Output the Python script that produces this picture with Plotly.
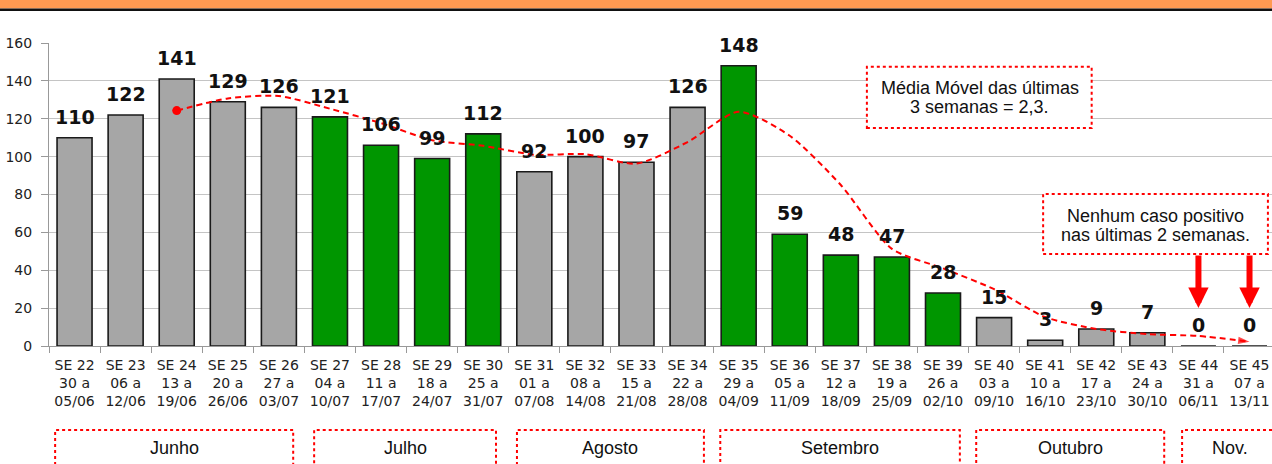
import plotly.graph_objects as go

# weekly data (SE = semana epidemiologica)
weeks = ["SE 22", "SE 23", "SE 24", "SE 25", "SE 26", "SE 27", "SE 28", "SE 29",
         "SE 30", "SE 31", "SE 32", "SE 33", "SE 34", "SE 35", "SE 36", "SE 37",
         "SE 38", "SE 39", "SE 40", "SE 41", "SE 42", "SE 43", "SE 44", "SE 45"]
week_start = ["30 a", "06 a", "13 a", "20 a", "27 a", "04 a", "11 a", "18 a",
              "25 a", "01 a", "08 a", "15 a", "22 a", "29 a", "05 a", "12 a",
              "19 a", "26 a", "03 a", "10 a", "17 a", "24 a", "31 a", "07 a"]
week_end = ["05/06", "12/06", "19/06", "26/06", "03/07", "10/07", "17/07", "24/07",
            "31/07", "07/08", "14/08", "21/08", "28/08", "04/09", "11/09", "18/09",
            "25/09", "02/10", "09/10", "16/10", "23/10", "30/10", "06/11", "13/11"]
cases = [110, 122, 141, 129, 126, 121, 106, 99, 112, 92, 100, 97, 126, 148,
         59, 48, 47, 28, 15, 3, 9, 7, 0, 0]
highlight = [0, 0, 0, 0, 0, 1, 1, 1, 1, 0, 0, 0, 0, 1, 1, 1, 1, 1, 0, 0, 0, 0, 0, 0]
moving_avg = [None, None, 124.3, 130.7, 132.0, 125.3, 117.7, 108.7, 105.7, 101.0,
              101.3, 96.3, 107.7, 123.7, 111.0, 85.0, 51.3, 41.0, 30.0, 15.3,
              9.0, 6.3, 5.3, 2.3]

months = ["Junho", "Julho", "Agosto", "Setembro", "Outubro", "Nov."]
# month box spans, in category index units
month_spans = [(-0.38, 4.28), (4.69, 8.25), (8.66, 12.32), (12.64, 17.33),
               (17.65, 21.33), (21.68, 23.54)]

note_avg = ["Média Móvel das últimas", "3 semanas = 2,3."]
note_none = ["Nenhum caso positivo", "nas últimas 2 semanas."]

GRAY = "#A6A6A6"
GREEN = "#009600"
RED = "#FF0000"

labels = [f"{w}<br>{s}<br>{e}" for w, s, e in zip(weeks, week_start, week_end)]
colors = [GREEN if h else GRAY for h in highlight]

fig = go.Figure()

fig.add_trace(go.Bar(
    x=labels, y=cases,
    marker=dict(color=colors, line=dict(color="#1a1a1a", width=1.6)),
    showlegend=False, hoverinfo="skip"
))

# moving average line with an arrow at the end
n = len(moving_avg)
sizes = [0] * n
sizes[-1] = 12
fig.add_trace(go.Scatter(
    x=labels, y=moving_avg, mode="lines+markers",
    line=dict(color=RED, width=2, dash="6px,4px", shape="spline", smoothing=0.7),
    marker=dict(color=RED, size=sizes, symbol="arrow", angleref="previous",
                line=dict(width=0)),
    showlegend=False, hoverinfo="skip"
))

# dot where the average starts
first = next(i for i, v in enumerate(moving_avg) if v is not None)
fig.add_trace(go.Scatter(
    x=[labels[first]], y=[moving_avg[first]], mode="markers",
    marker=dict(color=RED, size=9), showlegend=False, hoverinfo="skip"
))

annotations = []
shapes = []

# value labels above bars
for i, v in enumerate(cases):
    annotations.append(dict(
        x=i, y=v, xref="x", yref="y", text=f"<b>{v}</b>", showarrow=False,
        yanchor="bottom", yshift=8,
        font=dict(family="DejaVu Sans", size=19, color="#111")
    ))

# top orange band + black rule
shapes.append(dict(type="rect", xref="paper", yref="paper", x0=-0.05, x1=1.02,
                   y0=1.1135, y1=1.16, fillcolor="#FF9A52", line=dict(width=0),
                   layer="above"))
shapes.append(dict(type="rect", xref="paper", yref="paper", x0=-0.05, x1=1.02,
                   y0=1.1055, y1=1.1135, fillcolor="#111", line=dict(width=0),
                   layer="above"))

box_line = dict(color=RED, width=2, dash="dot")

# month boxes
for name, (x0, x1) in zip(months, month_spans):
    shapes.append(dict(type="rect", xref="x", yref="paper", x0=x0, x1=x1,
                       y0=-0.6, y1=-0.277, line=box_line))
    annotations.append(dict(x=(x0 + x1) / 2, y=-0.3366, xref="x", yref="paper",
                            text=name, showarrow=False, yanchor="middle",
                            font=dict(family="Liberation Sans", size=18, color="#111")))

# note boxes
shapes.append(dict(type="rect", xref="x", yref="y", x0=15.51, x1=19.91,
                   y0=115.1, y1=147.5, line=box_line, fillcolor="white"))
for txt, yy in zip(note_avg, [136.4, 126.0]):
    annotations.append(dict(x=17.715, y=yy, xref="x", yref="y", text=txt,
                            showarrow=False, yanchor="middle",
                            font=dict(family="Liberation Sans", size=18, color="#111")))

shapes.append(dict(type="rect", xref="x", yref="y", x0=18.96, x1=23.36,
                   y0=48.6, y1=80.3, line=box_line, fillcolor="white"))
for txt, yy in zip(note_none, [68.6, 58.6]):
    annotations.append(dict(x=21.16, y=yy, xref="x", yref="y", text=txt,
                            showarrow=False, yanchor="middle",
                            font=dict(family="Liberation Sans", size=18, color="#111")))

# thick red arrows pointing at the last two weeks
for i in (22, 23):
    annotations.append(dict(x=i, y=20.1, xref="x", yref="y", ax=i, ay=48.6,
                            axref="x", ayref="y", text="", showarrow=True,
                            arrowhead=2, arrowwidth=6, arrowsize=0.68,
                            arrowcolor=RED))

fig.update_layout(
    width=1272, height=464,
    margin=dict(l=49, r=0, t=43, b=118),
    plot_bgcolor="white", paper_bgcolor="white",
    bargap=0.315,
    shapes=shapes, annotations=annotations,
    xaxis=dict(type="category", range=[-0.5, 23.44], tickson="boundaries",
               ticks="outside", ticklen=6, tickcolor="#999", showline=True,
               linecolor="#999", showgrid=False, ticklabelstandoff=6,
               tickfont=dict(family="DejaVu Sans", size=14, color="#222")),
    yaxis=dict(range=[0, 160], dtick=20, showgrid=True, gridcolor="#C4C4C4",
               gridwidth=1, showline=True, linecolor="#999", ticks="outside",
               ticklen=7, tickcolor="#999", zeroline=False, ticklabelstandoff=6,
               tickfont=dict(family="DejaVu Sans", size=14, color="#222")),
)

fig.write_html("out.html", config={"displayModeBar": False},
               post_script="document.body.style.margin='0';")
